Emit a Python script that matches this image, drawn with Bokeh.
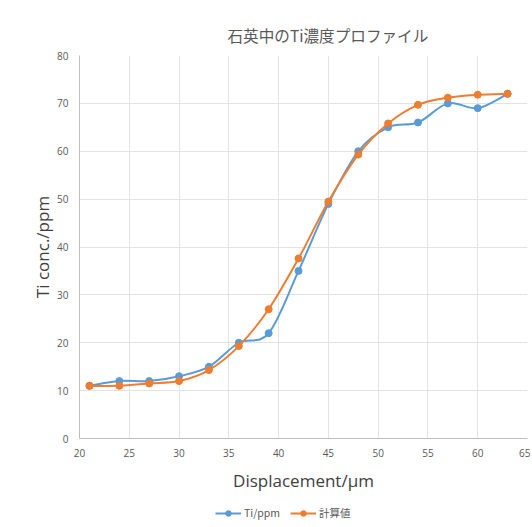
from bokeh.plotting import figure
from bokeh.layouts import column
from bokeh.models import Legend, LegendItem, FixedTicker, Range1d, ColumnDataSource
from bokeh.embed import file_html
from bokeh.resources import INLINE

# Data
displacement = [21, 24, 27, 30, 33, 36, 39, 42, 45, 48, 51, 54, 57, 60, 63]
ti_ppm = [11, 12, 12, 13, 15, 20, 22, 35, 49, 60, 65, 66, 70, 69, 72]
calc_val = [11, 11, 11.5, 12, 14.3, 19.3, 27, 37.6, 49.5, 59.3, 65.8, 69.7, 71.2, 71.8, 72]
x_ticks = [20, 25, 30, 35, 40, 45, 50, 55, 60, 65]
y_ticks = [0, 10, 20, 30, 40, 50, 60, 70, 80]
series_names = ["Ti/ppm", "計算値"]

BLUE = "#5B9BD5"
ORANGE = "#ED7D31"
GRAY_TXT = "#595959"


def smooth_segments(xs, ys):
    """Excel-like smoothed line: cubic Bezier control points (Catmull-Rom)."""
    n = len(xs)
    d = dict(x0=[], y0=[], x1=[], y1=[], cx0=[], cy0=[], cx1=[], cy1=[])
    for i in range(n - 1):
        xm, ym = (xs[i - 1], ys[i - 1]) if i > 0 else (xs[i], ys[i])
        xp, yp = (xs[i + 2], ys[i + 2]) if i + 2 < n else (xs[i + 1], ys[i + 1])
        d["x0"].append(xs[i]); d["y0"].append(ys[i])
        d["x1"].append(xs[i + 1]); d["y1"].append(ys[i + 1])
        d["cx0"].append(xs[i] + (xs[i + 1] - xm) / 6)
        d["cy0"].append(ys[i] + (ys[i + 1] - ym) / 6)
        d["cx1"].append(xs[i + 1] - (xp - xs[i]) / 6)
        d["cy1"].append(ys[i + 1] - (yp - ys[i]) / 6)
    return ColumnDataSource(d)


p = figure(width=530, height=494, output_backend="svg", toolbar_location=None,
           x_range=Range1d(20, 65), y_range=Range1d(0, 80),
           min_border_left=79, min_border_right=3, min_border_top=55, min_border_bottom=20)

p.title.text = "石英中のTi濃度プロファイル"
p.title.align = "left"
p.title.offset = 148
p.title.text_font = "Noto Sans CJK JP"
p.title.text_font_size = "15.6px"
p.title.text_font_style = "normal"
p.title.text_color = GRAY_TXT
p.title.standoff = 19

p.outline_line_color = None
p.background_fill_color = "white"
p.border_fill_color = "white"

for ax in (p.xaxis[0], p.yaxis[0]):
    ax.major_tick_line_color = None
    ax.minor_tick_line_color = None
    ax.axis_line_color = "#BFBFBF"
    ax.major_label_text_color = GRAY_TXT
    ax.major_label_text_font = "Open Sans"
    ax.major_label_text_font_size = "10px"
    ax.axis_label_text_color = "#404040"
    ax.axis_label_text_font = "Open Sans"
    ax.axis_label_text_font_size = "17px"
    ax.axis_label_text_font_style = "normal"

p.xaxis.ticker = FixedTicker(ticks=x_ticks)
p.yaxis.ticker = FixedTicker(ticks=y_ticks)
p.xaxis.axis_label = "Displacement/µm"
p.yaxis.axis_label = "Ti conc./ppm"
p.xaxis.major_label_standoff = 4
p.yaxis.major_label_standoff = 5
p.xaxis.axis_label_standoff = 9
p.yaxis.axis_label_standoff = 0

p.xgrid.ticker = FixedTicker(ticks=x_ticks)
p.ygrid.ticker = FixedTicker(ticks=y_ticks)
p.xgrid.grid_line_color = "#E3E3E3"
p.ygrid.grid_line_color = "#E3E3E3"

src_b = smooth_segments(displacement, ti_ppm)
src_o = smooth_segments(displacement, calc_val)

p.bezier("x0", "y0", "x1", "y1", "cx0", "cy0", "cx1", "cy1", source=src_b,
         line_color=BLUE, line_width=2)
p.scatter(displacement, ti_ppm, size=7, fill_color=BLUE, line_color=BLUE)
p.bezier("x0", "y0", "x1", "y1", "cx0", "cy0", "cx1", "cy1", source=src_o,
         line_color=ORANGE, line_width=2)
p.scatter(displacement, calc_val, size=7, fill_color=ORANGE, line_color=ORANGE)

# Legend below the chart, in its own strip
lf = figure(width=530, height=32, output_backend="svg", toolbar_location=None,
            x_range=Range1d(0, 1), y_range=Range1d(0, 1),
            min_border_left=0, min_border_right=0, min_border_top=0, min_border_bottom=0)
lf.axis.visible = False
lf.grid.visible = False
lf.outline_line_color = None

items = []
for name, col in zip(series_names, [BLUE, ORANGE]):
    ln = lf.line(x=[5, 6], y=[5, 5], line_color=col, line_width=2)
    mk = lf.scatter(x=[5], y=[5], size=7, fill_color=col, line_color=col)
    items.append(LegendItem(label=name, renderers=[ln, mk]))

legend = Legend(items=items, orientation="horizontal", location=(136, 6),
                border_line_color=None, background_fill_alpha=0,
                label_text_font="Noto Sans CJK JP", label_text_font_size="10.5px",
                label_text_color=GRAY_TXT, glyph_width=26, glyph_height=14,
                spacing=10, label_standoff=3, margin=0, padding=2)
lf.add_layout(legend, "center")

open("out.html", "w").write(file_html(column(p, lf, spacing=0), INLINE))
